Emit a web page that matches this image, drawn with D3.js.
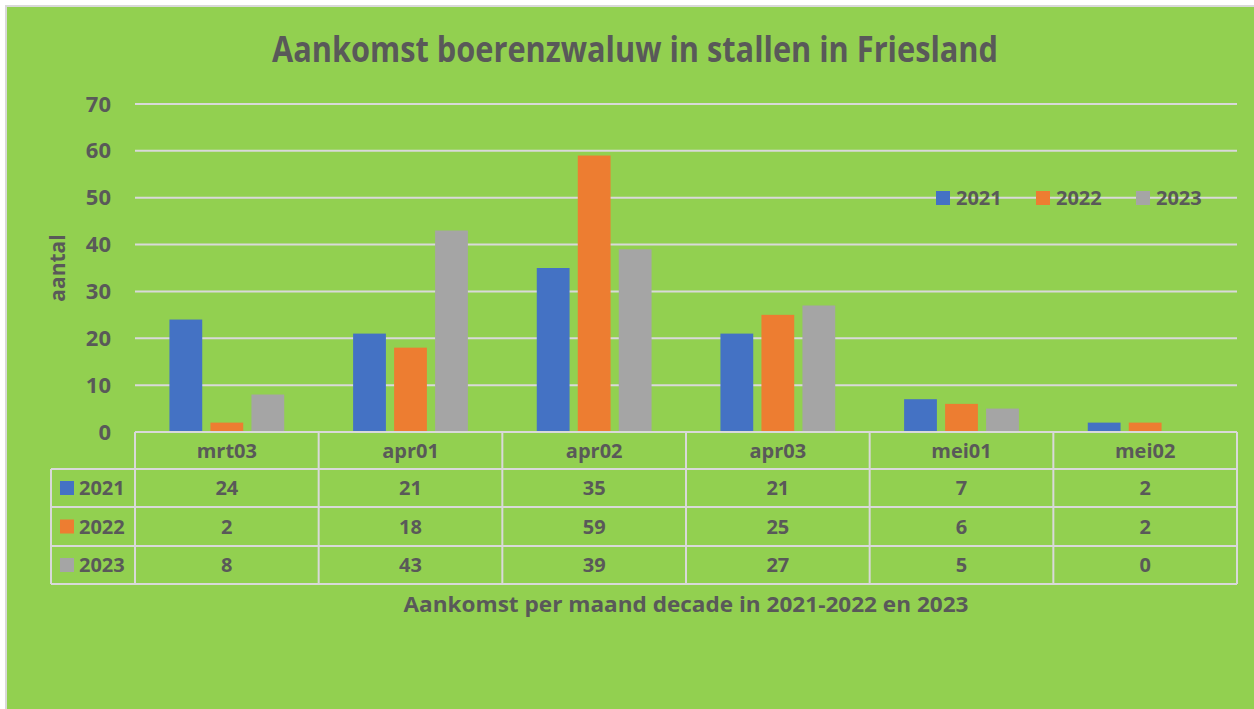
<!DOCTYPE html>
<html lang="nl">

<head>
    <meta charset="UTF-8" />
    <script type="text/javascript" src="https://cdn.jsdelivr.net/npm/d3@7/dist/d3.min.js"></script>
    <title>Aankomst boerenzwaluw in stallen in Friesland</title>
    <style>
        body { margin: 0; background: #ffffff; }
        svg text { font-family: "Open Sans", sans-serif; font-weight: bold; fill: #595959; }
    </style>
</head>

<body>
    <div id="my_dataviz"></div>

    <script type="text/javascript">
        // data
        var categories = ["mrt03", "apr01", "apr02", "apr03", "mei01", "mei02"];
        var seriesNames = ["2021", "2022", "2023"];
        var values2021 = [24, 21, 35, 21, 7, 2];
        var values2022 = [2, 18, 59, 25, 6, 2];
        var values2023 = [8, 43, 39, 27, 5, 0];
        var yTicks = [0, 10, 20, 30, 40, 50, 60, 70];
        var mycolors = ["#4472C4", "#ED7D31", "#A5A5A5"];

        var seriesValues = [values2021, values2022, values2023];

        var width = 1254, height = 709;
        var margin = { top: 104, right: 17, bottom: 277, left: 135 };
        var chartWidth = width - margin.left - margin.right;   // 1102
        var chartHeight = height - margin.top - margin.bottom; // 328
        var gridColor = "#D9D9D9";

        const svg = d3.select("#my_dataviz")
            .append("svg")
            .attr("width", width)
            .attr("height", height);

        // chart background + border
        svg.append("rect")
            .attr("x", 6).attr("y", 6)
            .attr("width", width + 20).attr("height", height + 20)
            .attr("fill", "#92D050")
            .attr("stroke", gridColor)
            .attr("stroke-width", 2);

        const g = svg.append("g")
            .attr("transform", `translate(${margin.left}, ${margin.top})`);

        const x = d3.scaleBand()
            .domain(categories)
            .range([0, chartWidth])
            .padding(0);

        const groupWidth = x.bandwidth() * 0.625;
        const x1 = d3.scaleBand()
            .domain(seriesNames)
            .range([0, groupWidth])
            .paddingInner(0.2)
            .paddingOuter(0);

        const y = d3.scaleLinear()
            .domain([0, 70])
            .range([chartHeight, 0]);

        const color = d3.scaleOrdinal()
            .domain(seriesNames)
            .range(mycolors);

        // gridlines
        g.append("g")
            .selectAll("line")
            .data(yTicks)
            .enter().append("line")
            .attr("x1", 0).attr("x2", chartWidth)
            .attr("y1", d => y(d)).attr("y2", d => y(d))
            .attr("stroke", gridColor)
            .attr("stroke-width", 2);

        // y axis labels
        const yAxis = g.append("g")
            .call(d3.axisLeft(y).tickValues(yTicks).tickSize(0).tickPadding(24));
        yAxis.select(".domain").remove();
        yAxis.selectAll("text")
            .attr("font-size", 22)
            .style("font-family", "'Open Sans', sans-serif")
            .style("font-weight", "bold")
            .attr("fill", "#595959");

        // bars
        var barData = [];
        seriesNames.forEach(function (s, si) {
            categories.forEach(function (c, ci) {
                barData.push({ series: s, cat: c, value: seriesValues[si][ci] });
            });
        });

        g.append("g")
            .selectAll("rect")
            .data(barData)
            .enter().append("rect")
            .attr("x", d => x(d.cat) + (x.bandwidth() - groupWidth) / 2 + x1(d.series))
            .attr("y", d => y(d.value))
            .attr("width", x1.bandwidth())
            .attr("height", d => y(0) - y(d.value))
            .attr("fill", d => color(d.series));

        // data table
        var rowH = [37, 38, 39, 38];
        var rowY = [0];
        rowH.forEach(function (h, i) { rowY.push(rowY[i] + h); });
        var tableLeft = 51 - margin.left;
        const table = g.append("g")
            .attr("transform", `translate(0, ${chartHeight})`);

        // horizontal lines
        table.selectAll("line.h")
            .data(rowY)
            .enter().append("line")
            .attr("class", "h")
            .attr("x1", (d, i) => i === 0 ? 0 : tableLeft)
            .attr("x2", chartWidth)
            .attr("y1", d => d).attr("y2", d => d)
            .attr("stroke", gridColor).attr("stroke-width", 2);

        // vertical lines
        var colEdges = categories.map(c => x(c)).concat([chartWidth]);
        table.selectAll("line.v")
            .data(colEdges)
            .enter().append("line")
            .attr("class", "v")
            .attr("x1", d => d).attr("x2", d => d)
            .attr("y1", 0).attr("y2", rowY[4])
            .attr("stroke", gridColor).attr("stroke-width", 2);
        table.append("line")
            .attr("x1", tableLeft).attr("x2", tableLeft)
            .attr("y1", rowY[1]).attr("y2", rowY[4])
            .attr("stroke", gridColor).attr("stroke-width", 2);

        // header
        table.selectAll("text.head")
            .data(categories)
            .enter().append("text")
            .attr("class", "head")
            .attr("x", d => x(d) + x.bandwidth() / 2)
            .attr("y", rowY[0] + rowH[0] / 2)
            .attr("dy", "0.36em")
            .attr("text-anchor", "middle")
            .attr("font-size", 20)
            .text(d => d);

        // rows
        seriesNames.forEach(function (s, si) {
            var cy = rowY[si + 1] + rowH[si + 1] / 2;
            table.append("rect")
                .attr("x", tableLeft + 9).attr("y", cy - 7)
                .attr("width", 14).attr("height", 14)
                .attr("fill", color(s));
            table.append("text")
                .attr("x", tableLeft + 28).attr("y", cy)
                .attr("dy", "0.36em")
                .attr("font-size", 20)
                .text(s);
            table.selectAll("text.v" + si)
                .data(seriesValues[si])
                .enter().append("text")
                .attr("class", "v" + si)
                .attr("x", (d, i) => x(categories[i]) + x.bandwidth() / 2)
                .attr("y", cy)
                .attr("dy", "0.36em")
                .attr("text-anchor", "middle")
                .attr("font-size", 20)
                .text(d => d);
        });

        // legend
        var legendX = [936, 1036, 1136];
        var legend = svg.selectAll(".legend")
            .data(seriesNames)
            .enter().append("g")
            .attr("class", "legend")
            .attr("transform", (d, i) => `translate(${legendX[i]}, 198)`);
        legend.append("rect")
            .attr("x", 0).attr("y", -7)
            .attr("width", 14).attr("height", 14)
            .attr("fill", d => color(d));
        legend.append("text")
            .attr("x", 20).attr("y", 0)
            .attr("dy", "0.36em")
            .attr("font-size", 20)
            .text(d => d);

        // titles
        svg.append("text")
            .attr("x", 635).attr("y", 62)
            .attr("text-anchor", "middle")
            .attr("font-size", 35)
            .attr("textLength", 726)
            .attr("lengthAdjust", "spacingAndGlyphs")
            .text("Aankomst boerenzwaluw in stallen in Friesland");

        svg.append("text")
            .attr("transform", "translate(65, 268) rotate(-90)")
            .attr("text-anchor", "middle")
            .attr("font-size", 21)
            .text("aantal");

        svg.append("text")
            .attr("x", 686).attr("y", 612)
            .attr("text-anchor", "middle")
            .attr("font-size", 21)
            .attr("textLength", 565)
            .attr("lengthAdjust", "spacingAndGlyphs")
            .text("Aankomst per maand decade in 2021-2022 en 2023");
    </script>
</body>

</html>
